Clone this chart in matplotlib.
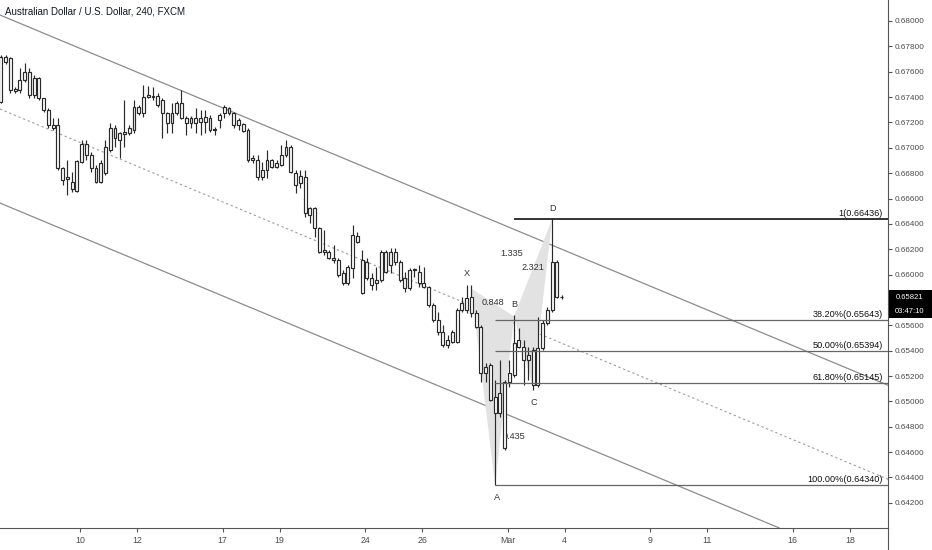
import matplotlib
matplotlib.use('Agg')
import matplotlib.pyplot as plt
import matplotlib.transforms as mtransforms
from matplotlib.patches import Rectangle, Polygon
from matplotlib.lines import Line2D
import pandas as pd

plt.rcParams['font.family'] = ['Liberation Sans', 'DejaVu Sans']

# AUD/USD 4h candles, first bar 2020-02-05 04:00
opens = [0.67361, 0.67716, 0.67708, 0.67464, 0.67456, 0.67535, 0.67598, 0.67416, 0.67550, 0.67393,
         0.67298, 0.67180, 0.67180, 0.66841, 0.66754, 0.66730, 0.66659, 0.66888, 0.67030, 0.66943,
         0.66841, 0.66730, 0.66801, 0.66983, 0.67156, 0.67117, 0.67109, 0.67117, 0.67140, 0.67322,
         0.67274, 0.67401, 0.67409, 0.67409, 0.67377, 0.67274, 0.67196, 0.67274, 0.67353, 0.67235,
         0.67196, 0.67235, 0.67204, 0.67243, 0.67235, 0.67140, 0.67219, 0.67274, 0.67314, 0.67274,
         0.67219, 0.67188, 0.67140, 0.66904, 0.66904, 0.66770, 0.66825, 0.66904, 0.66849, 0.66864,
         0.66943, 0.67006, 0.66801, 0.66722, 0.66770, 0.66470, 0.66525, 0.66368, 0.66178, 0.66178,
         0.66131, 0.66115, 0.66013, 0.65934, 0.66052, 0.66305, 0.66115, 0.65973, 0.65973, 0.65934,
         0.65958, 0.66178, 0.66076, 0.66178, 0.66099, 0.65973, 0.65894, 0.66036, 0.66021, 0.65934,
         0.65902, 0.65760, 0.65642, 0.65547, 0.65445, 0.65469, 0.65469, 0.65721, 0.65721, 0.65823,
         0.65697, 0.65587, 0.65224, 0.65287, 0.65035, 0.64909, 0.64633, 0.65153, 0.65208, 0.65484,
         0.65429, 0.65327, 0.65406, 0.65130, 0.65421, 0.65618, 0.65721, 0.66099, 0.65823]
highs = [0.67732, 0.67732, 0.67716, 0.67480, 0.67629, 0.67669, 0.67629, 0.67574, 0.67558, 0.67393,
         0.67314, 0.67235, 0.67235, 0.66849, 0.66904, 0.66809, 0.66904, 0.67062, 0.67062, 0.66967,
         0.66864, 0.66904, 0.67062, 0.67196, 0.67180, 0.67125, 0.67377, 0.67180, 0.67377, 0.67338,
         0.67495, 0.67487, 0.67480, 0.67432, 0.67393, 0.67282, 0.67353, 0.67369, 0.67456, 0.67251,
         0.67251, 0.67314, 0.67298, 0.67298, 0.67259, 0.67164, 0.67274, 0.67338, 0.67322, 0.67282,
         0.67235, 0.67196, 0.67156, 0.66943, 0.66943, 0.66888, 0.66983, 0.66912, 0.66904, 0.67022,
         0.67062, 0.67022, 0.66825, 0.66825, 0.66825, 0.66533, 0.66533, 0.66376, 0.66352, 0.66194,
         0.66234, 0.66131, 0.66036, 0.66076, 0.66391, 0.66336, 0.66194, 0.66131, 0.66013, 0.66060,
         0.66194, 0.66194, 0.66210, 0.66210, 0.66115, 0.66021, 0.66052, 0.66052, 0.66076, 0.66060,
         0.65910, 0.65776, 0.65705, 0.65603, 0.65524, 0.65563, 0.65737, 0.65823, 0.65918, 0.65918,
         0.65721, 0.65603, 0.65303, 0.65303, 0.65169, 0.65327, 0.65169, 0.65327, 0.65682, 0.65579,
         0.65484, 0.65429, 0.65429, 0.65666, 0.65642, 0.65745, 0.66436, 0.66115, 0.65840]
lows = [0.67353, 0.67661, 0.67432, 0.67432, 0.67432, 0.67519, 0.67393, 0.67393, 0.67377, 0.67282,
        0.67156, 0.67140, 0.66825, 0.66707, 0.66628, 0.66651, 0.66651, 0.66880, 0.66904, 0.66809,
        0.66722, 0.66722, 0.66786, 0.66967, 0.67006, 0.66920, 0.67006, 0.67101, 0.67117, 0.67259,
        0.67243, 0.67393, 0.67377, 0.67322, 0.67077, 0.67117, 0.67117, 0.67259, 0.67227, 0.67101,
        0.67156, 0.67117, 0.67101, 0.67117, 0.67125, 0.67101, 0.67156, 0.67235, 0.67259, 0.67156,
        0.67140, 0.67125, 0.66888, 0.66880, 0.66746, 0.66746, 0.66762, 0.66841, 0.66841, 0.66857,
        0.66928, 0.66801, 0.66644, 0.66683, 0.66454, 0.66407, 0.66297, 0.66170, 0.66155, 0.66125,
        0.66092, 0.65981, 0.65918, 0.65918, 0.65973, 0.66250, 0.65850, 0.65958, 0.65879, 0.65879,
        0.65942, 0.66013, 0.66013, 0.66076, 0.65942, 0.65863, 0.65879, 0.65981, 0.65902, 0.65894,
        0.65745, 0.65626, 0.65524, 0.65429, 0.65421, 0.65461, 0.65461, 0.65705, 0.65697, 0.65666,
        0.65579, 0.65153, 0.65153, 0.65000, 0.64340, 0.64877, 0.64617, 0.65114, 0.65193, 0.65421,
        0.65130, 0.65169, 0.65090, 0.65114, 0.65406, 0.65603, 0.65705, 0.65816, 0.65808]
closes = [0.67716, 0.67677, 0.67456, 0.67448, 0.67535, 0.67598, 0.67416, 0.67550, 0.67393, 0.67298,
          0.67180, 0.67156, 0.66841, 0.66746, 0.66770, 0.66675, 0.66896, 0.67030, 0.66943, 0.66841,
          0.66730, 0.66880, 0.67006, 0.67156, 0.67077, 0.67062, 0.67125, 0.67156, 0.67322, 0.67274,
          0.67401, 0.67416, 0.67401, 0.67338, 0.67274, 0.67196, 0.67274, 0.67353, 0.67235, 0.67196,
          0.67235, 0.67196, 0.67235, 0.67204, 0.67140, 0.67148, 0.67259, 0.67322, 0.67274, 0.67180,
          0.67180, 0.67133, 0.66904, 0.66920, 0.66770, 0.66825, 0.66904, 0.66849, 0.66880, 0.66943,
          0.67006, 0.66809, 0.66707, 0.66778, 0.66486, 0.66525, 0.66368, 0.66178, 0.66194, 0.66131,
          0.66115, 0.65997, 0.65934, 0.66060, 0.66312, 0.66257, 0.65855, 0.66099, 0.65918, 0.65958,
          0.66178, 0.66021, 0.66178, 0.66099, 0.65958, 0.65894, 0.66036, 0.66044, 0.65934, 0.65902,
          0.65760, 0.65642, 0.65547, 0.65445, 0.65484, 0.65547, 0.65721, 0.65776, 0.65816, 0.65697,
          0.65587, 0.65224, 0.65271, 0.65011, 0.64909, 0.65066, 0.65153, 0.65224, 0.65461, 0.65429,
          0.65327, 0.65366, 0.65130, 0.65421, 0.65618, 0.65721, 0.66099, 0.65823, 0.65821]

# trend channel (bar index, price) anchors
channel_upper = [(0, 0.68044), (180, 0.65232)]
channel_lower = [(0, 0.66561), (180, 0.63749)]

# XABCD pattern
pattern_names = ['X', 'A', 'B', 'C', 'D']
pattern_bars = [99, 104, 108, 112, 116]
pattern_prices = [0.65890, 0.64340, 0.65670, 0.65110, 0.66436]
ratio_labels = ['0.848', '1.335', '2.321', '0.435']
ratio_pairs = [('X', 'B'), ('X', 'D'), ('B', 'D'), ('A', 'C')]

# fib retracement A -> D
fib_labels = ['1(0.66436)', '38.20%(0.65643)', '50.00%(0.65394)', '61.80%(0.65145)', '100.00%(0.64340)']
fib_prices = [0.66436, 0.65643, 0.65394, 0.65145, 0.64340]

day_labels = ['10', '12', '17', '19', '24', '26', 'Mar', '4', '9', '11', '16', '18']
day_dates = ['2020-02-10', '2020-02-12', '2020-02-17', '2020-02-19', '2020-02-24', '2020-02-26',
             '2020-03-02', '2020-03-04', '2020-03-09', '2020-03-11', '2020-03-16', '2020-03-18']
price_ticks = [0.642 + 0.002 * k for k in range(20)]

last_price = 0.65821
countdown = '03:47:10'
title = 'Australian Dollar / U.S. Dollar, 240, FXCM'

# %% bar timeline
bar_times = [d + pd.Timedelta(hours=4 * k)
             for d in pd.bdate_range('2020-02-05', '2020-03-31') for k in range(6)]
bar_times = [t for t in bar_times if t >= pd.Timestamp('2020-02-05 04:00')]
bar_pos = {t: i for i, t in enumerate(bar_times)}
tick_pos = [bar_pos[pd.Timestamp(d)] - 0.35 for d in day_dates]

# %% figure
W, H = 932, 550
fig = plt.figure(figsize=(W / 100, H / 100), dpi=100)
ax = fig.add_axes([0, 22 / H, 888 / W, 528 / H])
ax.set_xlim(-0.2, 186.7)
ax.set_ylim(0.640016, 0.681656)

edge = '#2a2a2a'
# channel
ax.axline(channel_upper[0], channel_upper[1], color='#8c8c8c', lw=0.9, zorder=1)
ax.axline(channel_lower[0], channel_lower[1], color='#8c8c8c', lw=0.9, zorder=1)
mid = [((a[0] + b[0]) / 2, (a[1] + b[1]) / 2) for a, b in zip(channel_upper, channel_lower)]
ax.axline(mid[0], mid[1], color='#9a9a9a', lw=0.8, dashes=(2, 2.5), zorder=1)

# pattern fills
pts = {n: (b, p) for n, b, p in zip(pattern_names, pattern_bars, pattern_prices)}
ax.add_patch(Polygon([pts['X'], pts['A'], pts['B']], closed=True, fc='#e2e2e2', ec='none', zorder=1))
ax.add_patch(Polygon([pts['B'], pts['C'], pts['D']], closed=True, fc='#e2e2e2', ec='none', zorder=1))
for lab, (p1, p2) in zip(ratio_labels, ratio_pairs):
    mx = (pts[p1][0] + pts[p2][0]) / 2
    my = (pts[p1][1] + pts[p2][1]) / 2
    ax.text(mx, my, lab, fontsize=6.6, color='#333333', ha='center', va='center', zorder=1.5)

label_offsets = {'X': (-3.5, 11), 'A': (1.4, -8.6), 'B': (0, 8.6), 'C': (0.7, -10.8), 'D': (0, 8)}
for n in pattern_names:
    ax.annotate(n, pts[n], xytext=label_offsets[n], textcoords='offset points',
                fontsize=6.6, color='#333333', ha='center', va='center', zorder=5)

# candles
x = list(range(len(opens)))
ax.vlines(x, lows, highs, color=edge, lw=0.85, zorder=2)
bottoms = [min(o, c) for o, c in zip(opens, closes)]
heights = [max(abs(c - o), 0.00003) for o, c in zip(opens, closes)]
ax.bar(x, heights, bottom=bottoms, width=0.62, color='white', edgecolor=edge, linewidth=0.85, zorder=3)

# fib lines
blend = mtransforms.blended_transform_factory(ax.transAxes, ax.transData)
for lab, p in zip(fib_labels, fib_prices):
    if lab.startswith('1('):
        ax.hlines(p, pts['B'][0], 186.7, color='#111111', lw=1.2, zorder=4)
    else:
        ax.hlines(p, pts['A'][0], 186.7, color='#666666', lw=0.9, zorder=4)
    ax.text(1 - 5 / 888, p + 0.00008, lab, transform=blend, fontsize=6.6, color='#111111',
            ha='right', va='bottom', zorder=5)

# axes styling
for s in ['top', 'left']:
    ax.spines[s].set_visible(False)
ax.spines['right'].set_color('#555555')
ax.spines['bottom'].set_color('#555555')
ax.yaxis.tick_right()
ax.set_yticks(price_ticks)
# the tick under the last-price tag is covered, as in the reference
ax.set_yticklabels(['' if abs(v - last_price) < 0.0008 else f'{v:.5f}' for v in price_ticks])
ax.set_xticks(tick_pos)
ax.set_xticklabels(day_labels)
ax.tick_params(axis='both', length=3, color='#555555', labelsize=5.9, labelcolor='#4a4a4a', pad=2)
ax.tick_params(axis='x', labelsize=6.3, pad=3)
fig.add_artist(Line2D([888 / W, 888 / W], [0, 22 / H], color='#555555', lw=0.8))

# last price tag
ax.add_patch(Rectangle((1.001, last_price - 0.00055), 0.05, 0.0011, transform=blend,
                       fc='black', ec='none', clip_on=False, zorder=6))
ax.add_patch(Rectangle((1.001, last_price - 0.00160), 0.05, 0.00104, transform=blend,
                       fc='black', ec='none', clip_on=False, zorder=6))
ax.text(1.0245, last_price, f'{last_price:.5f}', transform=blend, color='white', fontsize=5.5,
        ha='center', va='center', zorder=7, clip_on=False)
ax.text(1.0245, last_price - 0.00109, countdown, transform=blend, color='white', fontsize=5.5,
        ha='center', va='center', zorder=7, clip_on=False)

fig.text(5 / W, 1 - 11 / H, title, fontsize=7.0, color='#131722', va='center', ha='left')

fig.savefig('out.png', dpi=100, facecolor='white')
